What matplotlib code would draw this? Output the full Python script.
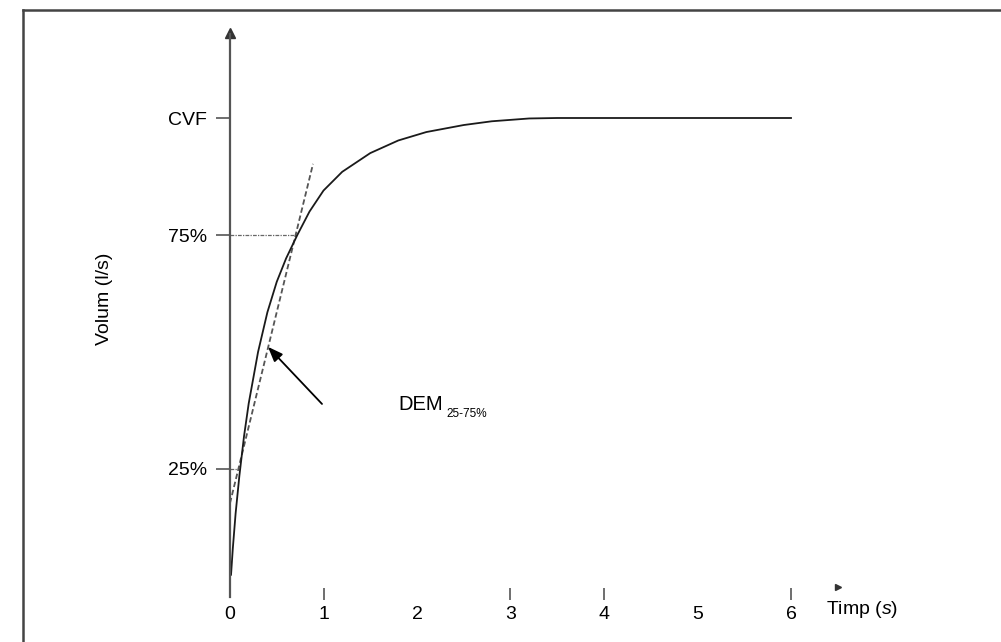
import matplotlib
matplotlib.use("Agg")
import matplotlib.pyplot as plt
from matplotlib.lines import Line2D

plt.rcParams["font.family"] = ["Liberation Sans", "DejaVu Sans"]
plt.rcParams["mathtext.fontset"] = "custom"
plt.rcParams["mathtext.rm"] = "Liberation Sans"
plt.rcParams["mathtext.it"] = "Liberation Sans:italic"

# Volume-time curve (time in s, volume in % of CVF)
time_s = [0.011, 0.03, 0.06, 0.10, 0.15, 0.20, 0.30, 0.40, 0.50, 0.60,
          0.72, 0.85, 1.00, 1.20, 1.50, 1.80, 2.10, 2.50, 2.80, 3.20,
          3.50, 6.00]
volume_pct = [2.4, 8.0, 15.5, 23.5, 32.0, 39.0, 50.0, 58.5, 65.0, 70.0,
              75.0, 80.0, 84.5, 88.5, 92.5, 95.2, 97.0, 98.5, 99.3, 99.9,
              100.0, 100.0]

# dashed tangent through the 25% and 75% points
tangent_t = [0.0, 0.888]
tangent_v = [17.7, 90.2]

x_ticks = [0, 1, 2, 3, 4, 5, 6]
x_ticks_with_mark = [1, 3, 4, 6]
y_ticks = [25, 75, 100]
y_tick_labels = ["25%", "75%", "CVF"]

fig = plt.figure(figsize=(10.01, 6.42), dpi=100)
ax = fig.add_axes([0, 0, 1, 1])
ax.set_facecolor("none")
ax.set_xlim(-2.4599, 8.2460)
ax.set_ylim(-11.966, 125.214)

axis_col = "#555555"

# spines: only the left one, placed at t = 0
for side in ("top", "right"):
    ax.spines[side].set_visible(False)
ax.spines["left"].set_position(("data", 0))
ax.spines["left"].set_bounds(-2.4, 118.0)
ax.spines["left"].set_color(axis_col)
ax.spines["left"].set_linewidth(1.6)
ax.spines["bottom"].set_position(("data", -3.0))
ax.spines["bottom"].set_visible(False)

ax.plot([0], [118.2], marker="^", markersize=7, color="#333333", clip_on=False)
ax.plot([6.5], [-0.2], marker=">", markersize=5, color="#333333", clip_on=False)

ax.set_xticks(x_ticks)
ax.set_xticklabels([str(v) for v in x_ticks])
ax.tick_params(axis="x", direction="in", length=8.6, width=1.2,
               color=axis_col, labelsize=14, pad=4)
for tick, val in zip(ax.xaxis.get_major_ticks(), x_ticks):
    if val not in x_ticks_with_mark:
        tick.tick1line.set_visible(False)

ax.set_yticks(y_ticks)
ax.set_yticklabels(y_tick_labels)
ax.tick_params(axis="y", direction="out", length=10, width=1.2,
               color=axis_col, labelsize=14, pad=6.5)

# reference lines at 75% and 25%
ax.plot([0, 0.72], [75, 75], linestyle=(0, (3, 1, 1, 1)), color="#666666", lw=0.9)
ax.plot([0, 0.1], [25, 25], linestyle=(0, (3, 1, 1, 1)), color="#666666", lw=0.9)

ax.plot(tangent_t, tangent_v, linestyle=(0, (3, 1.6)), color="#555555", lw=1.3)
ax.plot(time_s, volume_pct, color="#1a1a1a", lw=1.3)

ax.annotate("", xy=(0.406, 51.1), xytext=(0.984, 38.9),
            arrowprops=dict(arrowstyle="-|>,head_length=0.9,head_width=0.35",
                            color="black", lw=1.3, shrinkA=0, shrinkB=0))
ax.text(1.797, 37.6, "DEM", fontsize=14.5, ha="left", va="baseline")
ax.text(2.31, 36.1, "25-75%", fontsize=8.5, ha="left", va="baseline")

ax.set_ylabel("Volum (l/s)", fontsize=14)
ax.yaxis.set_label_coords(-1.251, 61.3, transform=ax.transData)
ax.set_xlabel("Timp ($s$)", fontsize=14)
ax.xaxis.set_label_coords(6.76, -5.1, transform=ax.transData)
ax.xaxis.label.set_va("center")

# outer frame (cropped on the right and bottom)
fx0 = 23 / 1001
fy1 = 1 - 10 / 642
fig.add_artist(Line2D([fx0, fx0], [-0.1, fy1], transform=fig.transFigure,
                      color="#444444", lw=1.8))
fig.add_artist(Line2D([fx0, 1.1], [fy1, fy1], transform=fig.transFigure,
                      color="#444444", lw=1.8))

fig.savefig("out.png", dpi=100)
